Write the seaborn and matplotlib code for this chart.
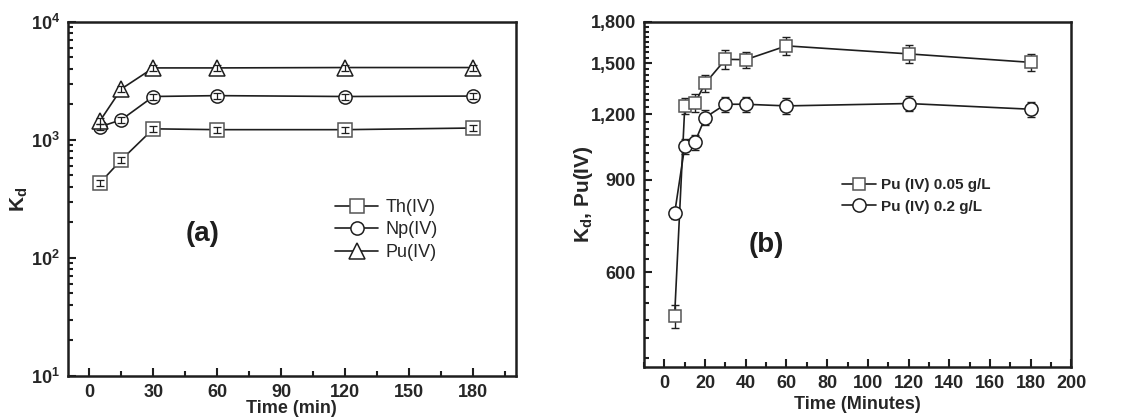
"""Kd vs contact time for Th/Np/Pu (a) and Pu at two doses (b)."""

import matplotlib
matplotlib.use("Agg")
import matplotlib.pyplot as plt
from matplotlib import ticker
import numpy as np
import pandas as pd
import seaborn as sns

# panel (a)
time_a = [5, 15, 30, 60, 120, 180]
kd_th = [432, 677, 1240, 1220, 1220, 1260]
kd_np = [1290, 1480, 2330, 2370, 2330, 2350]
kd_pu = [1450, 2700, 4070, 4070, 4100, 4100]
labels_a = ["Th(IV)", "Np(IV)", "Pu(IV)"]

# panel (b)
time_b = [5, 10, 15, 20, 30, 40, 60, 120, 180]
kd_005 = [496, 1244, 1261, 1374, 1527, 1525, 1620, 1564, 1507]
err_005 = [25, 45, 48, 50, 62, 55, 63, 60, 56]
kd_02 = [777, 1044, 1063, 1183, 1254, 1254, 1245, 1258, 1227]
err_02 = [20, 35, 35, 38, 42, 42, 42, 42, 40]
labels_b = ["Pu (IV) 0.05 g/L", "Pu (IV) 0.2 g/L"]

sns.set_theme(style="ticks")
plt.rcParams["font.family"] = ["Liberation Sans", "DejaVu Sans"]
plt.rcParams["mathtext.fontset"] = "custom"
plt.rcParams["mathtext.rm"] = "Liberation Sans"
plt.rcParams["mathtext.bf"] = "Liberation Sans:bold"
plt.rcParams["mathtext.it"] = "Liberation Sans:italic"

INK = "#1e1e1e"

fig = plt.figure(figsize=(11.36, 4.2), dpi=100)
ax_a = fig.add_axes([0.0599, 0.105, 0.394, 0.843])
ax_b = fig.add_axes([0.567, 0.126, 0.376, 0.822])


def style_axes(ax):
    for side in ax.spines.values():
        side.set_linewidth(1.8)
        side.set_color(INK)
    ax.tick_params(which="both", direction="in", top=False, right=False,
                   color=INK, width=1.5, labelsize=13, pad=6)
    ax.tick_params(which="major", length=6)
    ax.tick_params(which="minor", length=3.5)
    for lab in ax.get_xticklabels() + ax.get_yticklabels():
        lab.set_fontweight("bold")


# ---- panel (a)
series_a = [(kd_th, "s", "#555555", 9.5), (kd_np, "o", INK, 9.5), (kd_pu, "^", INK, 12)]
for (vals, mk, edge, ms), lab in zip(series_a, labels_a):
    sns.lineplot(x=time_a, y=vals, ax=ax_a, color=INK, lw=1.2, marker=mk,
                 markersize=ms, markerfacecolor="white", markeredgecolor=edge,
                 markeredgewidth=1.1, label=lab, zorder=3)
    vals = np.asarray(vals, dtype=float)
    ax_a.errorbar(time_a, vals, yerr=0.06 * vals, fmt="none", ecolor=INK,
                  elinewidth=0.9, capsize=3, capthick=0.9, zorder=4)

ax_a.set_yscale("log")
ax_a.set_ylim(10, 1e4)
ax_a.set_xlim(-10, 200)
ax_a.xaxis.set_major_locator(ticker.FixedLocator([0, 30, 60, 90, 120, 150, 180]))
ax_a.xaxis.set_minor_locator(ticker.FixedLocator([15, 45, 75, 105, 135, 165, 195]))
ax_a.yaxis.set_major_locator(ticker.LogLocator(base=10))
ax_a.yaxis.set_minor_locator(ticker.LogLocator(base=10, subs=np.arange(2, 10)))
ax_a.yaxis.set_major_formatter(
    ticker.FuncFormatter(lambda v, p: r"$\mathbf{10^{%d}}$" % round(np.log10(v))))
ax_a.yaxis.set_minor_formatter(ticker.NullFormatter())
style_axes(ax_a)
ax_a.set_xlabel("Time (min)", fontsize=13, fontweight="bold")
ax_a.xaxis.set_label_coords(0.5, -0.068)
ax_a.set_ylabel(r"$\mathbf{K_d}$", fontsize=15)
ax_a.yaxis.set_label_coords(-0.085, 0.5)
ax_a.text(0.30, 0.40, "(a)", transform=ax_a.transAxes, fontsize=20,
          fontweight="bold", ha="center", va="center", color=INK)
ax_a.legend(loc="upper left", bbox_to_anchor=(0.58, 0.52), frameon=False,
            fontsize=13, handlelength=2.4, handletextpad=0.4, labelspacing=0.3,
            borderaxespad=0)

# ---- panel (b)
series_b = [(kd_005, err_005, "s", "#555555", 9), (kd_02, err_02, "o", INK, 9.5)]
for (vals, err, mk, edge, ms), lab in zip(series_b, labels_b):
    ax_b.errorbar(time_b, vals, yerr=err, fmt="none", ecolor=INK,
                  elinewidth=1.0, capsize=3, capthick=1.0, zorder=2)
    sns.lineplot(x=time_b, y=vals, ax=ax_b, color=INK, lw=1.2, marker=mk,
                 markersize=ms, markerfacecolor="white", markeredgecolor=edge,
                 markeredgewidth=1.1, label=lab, zorder=3)

ax_b.set_yscale("log")
ax_b.set_ylim(396, 1800)
ax_b.set_xlim(-10, 200)
ax_b.xaxis.set_major_locator(ticker.MultipleLocator(20))
ax_b.xaxis.set_minor_locator(ticker.MultipleLocator(10))
ax_b.yaxis.set_major_locator(ticker.FixedLocator([600, 900, 1200, 1500, 1800]))
ax_b.yaxis.set_minor_locator(ticker.FixedLocator(np.arange(412.5, 1800, 37.5)))
ax_b.yaxis.set_major_formatter(ticker.FuncFormatter(lambda v, p: f"{v:,.0f}"))
ax_b.yaxis.set_minor_formatter(ticker.NullFormatter())
style_axes(ax_b)
ax_b.set_xlabel("Time (Minutes)", fontsize=13, fontweight="bold")
ax_b.xaxis.set_label_coords(0.5, -0.085)
ax_b.set_ylabel(r"$\mathbf{K_d}$, Pu(IV)", fontsize=15, fontweight="bold")
ax_b.yaxis.set_label_coords(-0.115, 0.5)
ax_b.text(0.286, 0.354, "(b)", transform=ax_b.transAxes, fontsize=20,
          fontweight="bold", ha="center", va="center", color=INK)
leg = ax_b.legend(loc="upper left", bbox_to_anchor=(0.45, 0.565), frameon=False,
                  fontsize=11, handlelength=2.2, handletextpad=0.3,
                  labelspacing=0.5, borderaxespad=0)
for t in leg.get_texts():
    t.set_fontweight("bold")

fig.savefig("out.png", dpi=100)
